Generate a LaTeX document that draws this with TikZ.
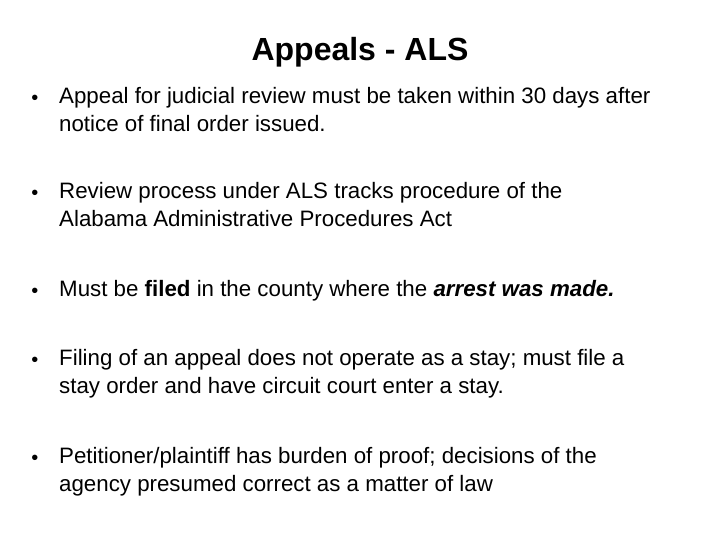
\documentclass[tikz,border=0pt]{standalone}
\usepackage{fontspec}
\setmainfont{Liberation Sans}
\begin{document}
\begin{tikzpicture}[x=1pt,y=-1pt,
  body/.style={anchor=north west,inner sep=0pt,font=\fontsize{22.3}{28}\selectfont,align=left},
  bul/.style={anchor=center,inner sep=0pt,font=\fontsize{20}{28}\selectfont}]
\fill[white] (0,0) rectangle (720,540);
\useasboundingbox (0,0) rectangle (720,540);
\node[inner sep=0pt,font=\bfseries\fontsize{32}{34}\selectfont] (title) at (360,52) {Appeals - ALS};
\node[bul] (b1) at (35,100) {•};
\node[body] (t1) at (59,87) {Appeal for judicial review must be taken within 30 days after\\notice of final order issued.};
\node[bul] (b2) at (35,195) {•};
\node[body] (t2) at (59,182) {Review process under ALS tracks procedure of the\\Alabama Administrative Procedures Act};
\node[bul] (b3) at (35,293) {•};
\node[body] (t3) at (59,280) {Must be \textbf{filed} in the county where the \textbf{\textit{arrest was made.}}};
\node[bul] (b4) at (35,362) {•};
\node[body] (t4) at (59,349) {Filing of an appeal does not operate as a stay; must file a\\stay order and have circuit court enter a stay.};
\node[bul] (b5) at (35,460) {•};
\node[body] (t5) at (59,447) {Petitioner/plaintiff has burden of proof; decisions of the\\agency presumed correct as a matter of law};
\end{tikzpicture}
\end{document}
